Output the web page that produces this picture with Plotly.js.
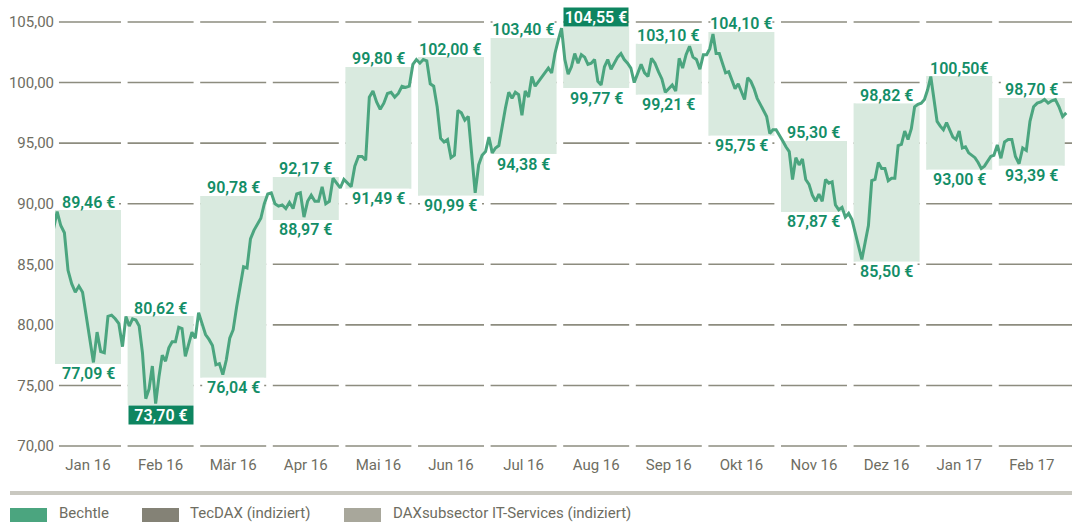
<!DOCTYPE html>
<html><head><meta charset="utf-8">
<script src="https://cdn.plot.ly/plotly-3.0.1.min.js"></script>
<style>html,body{margin:0;padding:0;background:#fff;}#chart{width:1072px;height:522px;}</style>
</head><body><div id="chart"></div>
<script>
// ---- data ----
const months = ['Jan 16','Feb 16','Mär 16','Apr 16','Mai 16','Jun 16','Jul 16','Aug 16','Sep 16','Okt 16','Nov 16','Dez 16','Jan 17','Feb 17'];
const yTicks = [70,75,80,85,90,95,100,105];
const yTickLabels = ['\u200770,00','\u200775,00','\u200780,00','\u200785,00','\u200790,00','\u200795,00','100,00','105,00'];

const jan16 = [87.9,89.35,88.2,87.6,84.5,83.4,82.7,83.2,82.7,80.7,78.6,76.9,79.4,77.8,77.7,80.7,80.8,80.5,80.1,78.2];
const feb16 = [80.7,79.9,80.5,80.4,79.9,77.7,73.9,74.7,76.6,73.5,75.7,77.5,77.0,78.1,78.6,78.6,79.8,79.7,77.4,78.4,79.4,78.9];
const mar16 = [81.0,80.1,79.2,78.8,78.3,76.7,76.8,75.9,77.1,78.9,79.6,81.5,83.3,84.8,84.7,87.1,87.8,88.3,88.8,90.0,90.8];
const apr16 = [90.9,90.0,89.8,89.9,89.6,90.1,89.6,90.8,90.9,88.9,90.2,90.7,90.2,90.2,91.4,90.0,90.2,92.1,91.7,91.3];
const mai16 = [92.0,91.7,91.4,93.1,93.9,93.9,93.6,98.8,99.3,98.4,97.8,98.3,99.1,99.2,98.8,99.1,99.7,99.6,99.7,101.5];
const jun16 = [101.9,101.6,101.9,101.8,99.9,99.7,98.0,95.4,95.1,95.3,93.8,94.0,97.7,97.5,96.9,97.2,94.2,90.9,93.2,94.0,94.3];
const jul16 = [95.5,94.2,94.6,94.8,96.4,97.9,99.2,98.7,99.2,99.0,97.3,99.3,98.8,100.5,99.7,100.1,100.4,100.8,101.2,100.8,102.4,103.5];
const aug16 = [104.5,101.9,100.7,101.3,102.4,101.6,102.3,102.1,101.5,101.6,101.9,100.1,99.8,101.3,101.9,101.1,101.6,102.1,102.4,101.9,101.6,101.2];
const sep16 = [100.0,100.8,101.5,100.8,100.5,102.0,101.6,100.9,100.3,99.2,99.5,99.8,99.3,102.0,101.2,102.3,103.0,102.1,101.9,101.1,102.3];
const okt16 = [102.3,102.8,104.0,102.4,102.4,101.6,100.8,100.9,100.1,99.5,99.9,99.3,98.6,100.4,100.1,99.5,98.7,98.2,97.7,97.2,95.8,96.1,96.1];
const nov16 = [95.7,95.2,94.7,94.3,92.0,93.8,93.2,93.7,92.0,91.6,90.7,90.2,90.8,90.2,92.0,91.7,91.8,89.9,89.5,89.7,88.9,89.2];
const dez16 = [88.7,87.6,86.5,85.4,86.8,88.2,91.9,92.0,93.4,92.9,92.9,91.9,92.1,92.1,94.8,94.9,96.0,95.3,96.2,98.0,98.2,98.3];
const jan17 = [98.6,99.4,100.5,98.8,96.8,96.4,96.1,96.7,96.1,95.5,95.3,96.0,94.6,94.7,94.2,94.0,93.8,93.4,92.9,93.1,93.5,93.9,94.0];
const feb17 = [94.85,93.75,95.1,95.3,95.3,93.9,93.3,94.6,94.4,96.8,98.0,98.3,98.4,98.6,98.3,98.5,98.6,98.0,97.2,97.5];
const dailyByMonth = [jan16,feb16,mar16,apr16,mai16,jun16,jul16,aug16,sep16,okt16,nov16,dez16,jan17,feb17];

const highLabels = ['89,46 €','80,62 €','90,78 €','92,17 €','99,80 €','102,00 €','103,40 €','104,55 €','103,10 €','104,10 €','95,30 €','98,82 €','100,50€','98,70 €'];
const lowLabels  = ['77,09 €','73,70 €','76,04 €','88,97 €','91,49 €','90,99 €','94,38 €','99,77 €','99,21 €','95,75 €','87,87 €','85,50 €','93,00 €','93,39 €'];
const rangeHigh = [89.48,80.73,90.64,92.21,101.29,102.11,103.68,104.59,103.21,104.18,95.18,98.29,100.54,98.73];
const rangeLow  = [76.77,73.38,75.64,88.66,91.24,90.66,94.10,99.55,99.00,95.62,89.32,85.21,92.81,93.14];

const legendNames = ['Bechtle','TecDAX (indiziert)','DAXsubsector IT-Services (indiziert)'];

// ---- styles ----
const FONT = 'Roboto, "DejaVu Sans", sans-serif';
const C_LINE = '#4ba57f', C_BOX = '#d9eadf', C_LABEL = '#138e67', C_DARK = '#0e8560';
const C_GRID = '#8d8c7f', C_TICK = '#6e6d62';
const legendColors = ['#4ba57f','#848276','#a8a79b'];
const HW = 0.4545;
const X0 = -HW, X1 = 13.554;
const ML = 55, PW = 1017, PH = 450;
const px2x = p => (p - ML) / PW;
const px2y = p => (PH - p) / PH;

// ---- series ----
const xs = [], ys = [];
dailyByMonth.forEach((arr, i) => {
  arr.forEach((v, k) => { xs.push(i - 0.5 + (k + 0.5) / arr.length); ys.push(v); });
});

const parseNum = s => parseFloat(s.replace('€','').replace(',','.'));
const highVals = highLabels.map(parseNum), lowVals = lowLabels.map(parseNum);
const iMax = highVals.indexOf(Math.max(...highVals));
const iMin = lowVals.indexOf(Math.min(...lowVals));

const shapes = [];
// segmented gridlines
yTicks.forEach(v => {
  months.forEach((m, i) => {
    shapes.push({type:'line', layer:'below', xref:'x', yref:'y',
      x0: i === 0 ? -0.40 : i - HW, x1: i === months.length - 1 ? X1 : i + HW,
      y0: v, y1: v, line:{color:C_GRID, width:1.6}});
  });
});
// monthly range boxes
months.forEach((m, i) => {
  shapes.push({type:'rect', layer:'below', xref:'x', yref:'y',
    x0: i - HW, x1: i + HW, y0: rangeLow[i], y1: rangeHigh[i],
    fillcolor: C_BOX, line:{width:0}});
});
// white backing behind labels (hides gridlines, stays under the line)
months.forEach((m, i) => {
  if (i !== iMax) shapes.push({type:'rect', layer:'below', xref:'x', yref:'y',
    xsizemode:'pixel', xanchor:i, x0:-31, x1:31,
    ysizemode:'pixel', yanchor:rangeHigh[i], y0:0, y1:18,
    fillcolor:'#ffffff', line:{width:0}});
  if (i !== iMin) shapes.push({type:'rect', layer:'below', xref:'x', yref:'y',
    xsizemode:'pixel', xanchor:i, x0:-31, x1:31,
    ysizemode:'pixel', yanchor:rangeLow[i], y0:-20, y1:0,
    fillcolor:'#ffffff', line:{width:0}});
});
// legend bar + swatches
shapes.push({type:'rect', xref:'paper', yref:'paper', x0:px2x(10), x1:px2x(1072), y0:px2y(495), y1:px2y(491), fillcolor:'#c9c8c0', line:{width:0}});
const swX = [10,142,344];
swX.forEach((sx, j) => {
  shapes.push({type:'rect', xref:'paper', yref:'paper', x0:px2x(sx), x1:px2x(sx+37), y0:px2y(526), y1:px2y(508), fillcolor:legendColors[j], line:{width:0}});
});

const annotations = [];
const labelFont = {family:FONT, size:16, color:C_LABEL, weight:600};
months.forEach((m, i) => {
  if (i === iMax) {
    annotations.push({xref:'x', yref:'y', x:i, y:rangeHigh[i], yanchor:'bottom', xanchor:'center', yshift:0,
      text:highLabels[i], showarrow:false, width:64, height:18, borderpad:0, bgcolor:C_DARK,
      font:{family:FONT, size:16, color:'#ffffff', weight:600}});
  } else {
    annotations.push({xref:'x', yref:'y', x:i, y:rangeHigh[i], yanchor:'middle', xanchor:'center', yshift:8,
      text:highLabels[i], showarrow:false, font:labelFont});
  }
  if (i === iMin) {
    annotations.push({xref:'x', yref:'y', x:i, y:rangeLow[i], yanchor:'top', xanchor:'center', yshift:0,
      text:lowLabels[i], showarrow:false, width:64, height:18, borderpad:0, bgcolor:C_DARK,
      font:{family:FONT, size:16, color:'#ffffff', weight:600}});
  } else {
    annotations.push({xref:'x', yref:'y', x:i, y:rangeLow[i], yanchor:'middle', xanchor:'center', yshift:-10,
      text:lowLabels[i], showarrow:false, font:labelFont});
  }
});
const legTextX = [57,188,391];
legendNames.forEach((n, j) => {
  annotations.push({xref:'paper', yref:'paper', x:px2x(legTextX[j]), y:px2y(513), xanchor:'left', yanchor:'middle',
    text:n, showarrow:false, font:{family:FONT, size:15, color:C_TICK}});
});

const trace = {x:xs, y:ys, type:'scatter', mode:'lines', line:{color:C_LINE, width:3}, hoverinfo:'skip', showlegend:false};

const layout = {
  width:1072, height:522,
  margin:{l:ML, r:0, t:0, b:522-PH},
  paper_bgcolor:'#ffffff', plot_bgcolor:'rgba(0,0,0,0)',
  showlegend:false,
  xaxis:{range:[X0, X1], tickvals:months.map((m,i)=>i), ticktext:months, showgrid:false, zeroline:false, showline:false,
    ticks:'', ticklabelstandoff:4, tickfont:{family:FONT, size:15, color:C_TICK}, fixedrange:true},
  yaxis:{range:[69.67, 106.816], tickvals:yTicks, ticktext:yTickLabels, showgrid:false, zeroline:false, showline:false,
    ticks:'', ticklabelstandoff:0, tickfont:{family:FONT, size:15, color:C_TICK}, fixedrange:true},
  shapes, annotations,
  font:{family:FONT}
};
Plotly.newPlot('chart', [trace], layout, {staticPlot:true, displayModeBar:false});
</script></body></html>
